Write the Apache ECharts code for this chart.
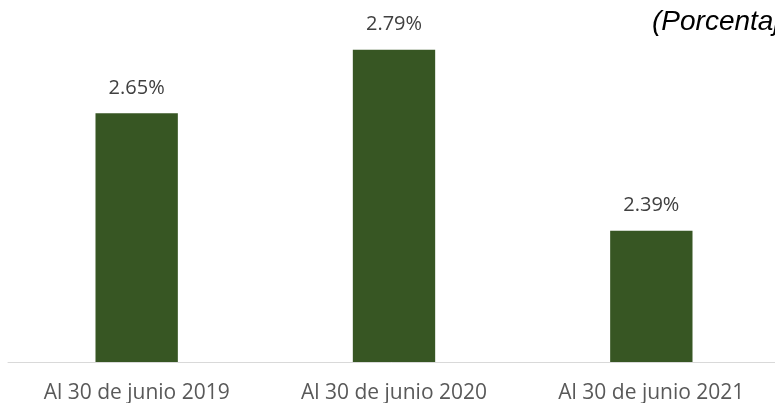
<!DOCTYPE html>
<html>
<head>
<meta charset="utf-8">
<script src="https://cdn.jsdelivr.net/npm/echarts@6/dist/echarts.min.js"></script>
<style>
  html, body { margin: 0; padding: 0; background: #fff; overflow: hidden; }
  #chart { width: 775px; height: 403px; }
</style>
</head>
<body>
<div id="chart"></div>
<script>
var categories = ['Al 30 de junio 2019', 'Al 30 de junio 2020', 'Al 30 de junio 2021'];
var values = [2.65, 2.79, 2.39];

var myChart = echarts.init(document.getElementById('chart'));
var option = {
    animation: false,
    grid: { left: 8, width: 772, top: 0, bottom: 41, outerBoundsMode: 'none', containLabel: false },
    graphic: [{
        type: 'text',
        left: 652,
        top: 8,
        style: {
            text: '(Porcentaje)',
            font: 'italic 28px "Liberation Sans", Arial, sans-serif',
            fill: '#000'
        }
    }],
    xAxis: {
        type: 'category',
        data: categories,
        axisLine: { lineStyle: { color: '#d9d9d9', width: 1 } },
        axisTick: { show: false },
        axisLabel: {
            color: '#595959',
            fontSize: 21,
            fontFamily: '"Open Sans", sans-serif',
            margin: 21
        }
    },
    yAxis: {
        type: 'value',
        min: 2.1,
        max: 2.9,
        show: false,
        splitLine: { show: false }
    },
    series: [{
        type: 'bar',
        data: values,
        barWidth: '32%',
        itemStyle: { color: '#375623' },
        label: {
            show: true,
            position: 'top',
            distance: 15,
            color: '#404040',
            fontSize: 20,
            fontFamily: '"Open Sans", sans-serif',
            formatter: function (p) { return p.value.toFixed(2) + '%'; }
        }
    }]
};
myChart.setOption(option);
</script>
</body>
</html>
